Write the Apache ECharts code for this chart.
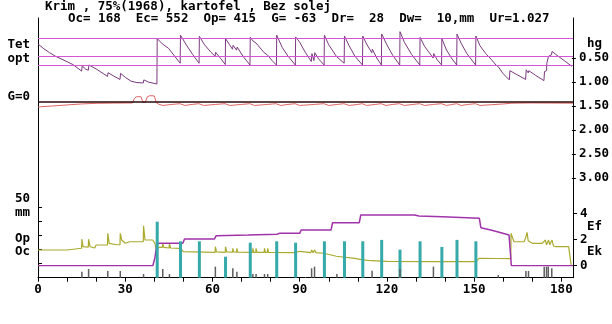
<!DOCTYPE html>
<html>
<head>
<meta charset="utf-8">
<script src="https://cdn.jsdelivr.net/npm/echarts@6/dist/echarts.min.js"></script>
<style>
  html, body { margin: 0; padding: 0; background: #fff; }
  #chart { width: 612px; height: 324px; }
</style>
</head>
<body>
<div id="chart"></div>
<script>
// Season water balance: Krim, 75% year (1968), potato, no salts.

const titleLine1 = 'Krim , 75%(1968), kartofel , Bez solej';
const titleLine2 = 'Oc= 168  Ec= 552  Op= 415  G= -63  Dr=  28  Dw=  10,mm  Ur=1.027';

// Day axis
const dayMax = 184;
const dayTicks = [0, 10, 20, 30, 40, 50, 60, 70, 80, 90, 100, 110, 120, 130, 140, 150, 160, 170, 180];
const dayLabels = [0, 30, 60, 90, 120, 150, 180];

// Groundwater depth scale (m)
const hgTicks = [0.5, 1.0, 1.5, 2.0, 2.5, 3.0];
// mm scale ticks and Ef/Ek scale ticks
const mmTicks = [10, 20, 30, 40, 50];
const efTicks = [0, 2, 4];

// Soil moisture levels: field capacity (Tet) and optimum band
const moistureLevels = [1.0, 0.8, 0.7];

// Relative soil moisture, [day, value]
const moisture = [
  [0, 0.94], [2, 0.885], [4, 0.84], [6, 0.80], [8.6, 0.76], [12, 0.705], [15.0, 0.63], [15.2, 0.69],
  [16.5, 0.65], [17.3, 0.64], [17.5, 0.70], [20, 0.655], [23.9, 0.57], [24.1, 0.612], [26, 0.575],
  [28.2, 0.535], [28.4, 0.605], [30, 0.56], [32, 0.515], [34, 0.50], [36.2, 0.495], [36.4, 0.53],
  [38, 0.505], [40.9, 0.483],
  [41.0, 1.0], [42.8, 0.94], [43.0, 0.955], [44.9, 0.89], [45.2, 0.91], [47, 0.80], [48.9, 0.72],
  [49.0, 1.04], [51.0, 0.93], [53.2, 0.82], [55.4, 0.72],
  [55.5, 1.027], [57.3, 0.93], [59.5, 0.845], [60.9, 0.80], [61.1, 0.845], [62.8, 0.775], [64.4, 0.705],
  [64.5, 1.0], [65.9, 0.93], [66.9, 0.88], [67.1, 0.925], [68.3, 0.87], [68.5, 0.905], [70.5, 0.80], [72.9, 0.70],
  [73.0, 1.016], [73.9, 0.975], [74.0, 0.985], [75.0, 0.95], [75.1, 0.96], [77.8, 0.84], [78.0, 0.855],
  [78.9, 0.815], [79.1, 0.835], [80.5, 0.75], [82.0, 0.70],
  [82.1, 1.04], [84, 0.90], [86, 0.80], [88.5, 0.70],
  [88.6, 1.02], [90, 0.96], [92, 0.84], [94.0, 0.74], [94.2, 0.83], [94.9, 0.75], [95.2, 0.84], [96.5, 0.77], [98.4, 0.70],
  [98.5, 1.04], [100, 0.93], [102.7, 0.795], [102.9, 0.81], [105.3, 0.72],
  [105.4, 1.03], [107, 0.92], [109, 0.80], [111.6, 0.70],
  [111.7, 1.03], [113, 0.94], [114.8, 0.84], [115.0, 0.88], [116.5, 0.78], [118.1, 0.70],
  [118.2, 1.054], [120, 0.93], [122, 0.81], [124.4, 0.70],
  [124.5, 1.08], [126, 0.96], [128.5, 0.82], [131.3, 0.70],
  [131.4, 1.015], [133, 0.91], [135.9, 0.78], [136.1, 0.83], [137.3, 0.76], [138.8, 0.70],
  [138.9, 1.0], [140.5, 0.87], [142.2, 0.78], [144.0, 0.70],
  [144.1, 1.054], [145.5, 0.95], [147.5, 0.83], [150.5, 0.70],
  [150.6, 1.03], [152, 0.92], [154, 0.83], [156, 0.76], [157.5, 0.70], [158.3, 0.68], [160, 0.60],
  [162.1, 0.53], [162.3, 0.635], [165, 0.585], [167.7, 0.535], [167.9, 0.645], [168.6, 0.61], [168.8, 0.635],
  [171, 0.585], [174.0, 0.522], [174.2, 0.625], [174.9, 0.635], [175.0, 0.72], [175.5, 0.74], [175.6, 0.80],
  [176.6, 0.815], [176.8, 0.855], [178.5, 0.81], [181, 0.75], [183.6, 0.685]
];

// Groundwater exchange G, [day, value]
const gFlow = [
  [0, -1.05], [5, -0.85], [10, -0.65], [15, -0.45], [20, -0.32], [26, -0.28], [32.5, -0.25],
  [33.2, 0.7], [34, 1.0], [35.4, 1.0], [36.1, -0.1], [36.9, -0.1], [37.6, 1.0], [38.5, 1.2], [40.0, 1.15],
  [40.7, -0.2], [41.5, -0.5], [43, -0.75], [46, -0.55], [48.8, -0.4], [50.5, -0.75], [53, -0.55], [55.3, -0.4],
  [57, -0.75], [61, -0.55], [64.3, -0.4], [66, -0.75], [70, -0.55], [72.8, -0.4], [74.5, -0.75], [79, -0.55],
  [81.8, -0.4], [83.5, -0.75], [86, -0.55], [88.4, -0.4], [90, -0.75], [95, -0.55], [98.3, -0.4], [100, -0.75],
  [103, -0.55], [105.2, -0.4], [107, -0.75], [110, -0.55], [111.5, -0.4], [113, -0.75], [116, -0.55], [118, -0.4],
  [119.7, -0.75], [122, -0.55], [124.3, -0.4], [126, -0.75], [129, -0.55], [131.2, -0.4], [133, -0.75], [136, -0.55],
  [138.7, -0.4], [140.5, -0.75], [142.5, -0.55], [144, -0.4], [145.5, -0.75], [148, -0.55], [150.4, -0.4],
  [152, -0.75], [156, -0.6], [160, -0.45], [163, -0.3], [170, -0.25], [184, -0.3]
];

// Precipitation, mm: [day, mm]
const rain = [
  [15.1, 4.3], [17.4, 6.2], [24.0, 4.8], [28.3, 4.8], [36.3, 2.6], [42.9, 6.2], [45.2, 2.6], [61.0, 7.9],
  [67.0, 6.7], [68.4, 4.3], [73.9, 2.6], [75.0, 2.6], [77.9, 2.6], [79.0, 2.6], [94.1, 6.7], [95.1, 7.9],
  [102.8, 2.6], [114.9, 5.0], [124.5, 6.2], [136.0, 7.9], [158.3, 1.9], [167.8, 4.8], [168.7, 4.8],
  [174.1, 7.9], [174.9, 7.9], [175.5, 7.9], [176.7, 6.7]
];

// Irrigation, mm: [day, mm]
const irrigation = [
  [41.0, 40], [49.0, 26], [55.5, 26], [64.5, 15], [73.0, 25], [82.1, 26], [88.6, 25], [98.5, 26],
  [105.4, 26], [111.7, 26], [118.2, 27], [124.5, 20], [131.4, 26], [138.9, 22], [144.1, 27], [150.6, 26]
];

// Actual evapotranspiration Ef, mm/day
const ef = [
  [0, 0], [39.5, 0], [40.2, 0.6], [40.8, 1.5], [41.3, 1.71], [49.8, 1.71], [50.4, 2.04], [60.7, 2.04],
  [61.3, 2.29], [72.2, 2.34], [72.7, 2.40], [82.2, 2.40], [83.0, 2.47], [90.0, 2.47], [90.5, 2.73],
  [100.8, 2.73], [101.3, 3.28], [110.5, 3.28], [111.0, 3.87], [129.5, 3.87], [131, 3.79], [139, 3.74],
  [151.8, 3.62], [152.3, 2.90], [155.7, 2.73], [158.6, 2.55], [162.0, 2.34], [162.8, 0], [184, 0]
];

// Evaporation Ek, mm/day
const ek = [
  [0, 1.2], [10, 1.2], [10.2, 1.33], [15.0, 1.33], [15.1, 2.04], [15.5, 1.45], [17.3, 1.42], [17.4, 2.02],
  [17.9, 1.45], [19.5, 1.35], [20, 1.58], [23.9, 1.58], [24.0, 2.47], [24.5, 1.71], [27, 1.6], [28.2, 1.6],
  [28.3, 2.47], [28.8, 1.96], [30, 1.71], [31.5, 1.83], [36.2, 1.83], [36.3, 3.05], [36.8, 1.96], [39.4, 1.96],
  [40.2, 1.71], [40.8, 1.2], [41.5, 1.4], [42.8, 1.4], [42.9, 1.71], [43.3, 1.4], [45.1, 1.35], [45.2, 1.71],
  [45.6, 1.35], [49, 1.33], [50, 1.07], [60.9, 1.02], [61.0, 1.45], [61.4, 1.05], [64.4, 1.02], [64.5, 1.45],
  [64.9, 1.05], [66.9, 1.03], [67.0, 1.33], [67.3, 1.05], [68.3, 1.03], [68.4, 1.33], [68.7, 1.03],
  [73.8, 1.02], [73.9, 1.33], [74.2, 1.02], [74.9, 1.02], [75.0, 1.33], [75.3, 1.02], [77.8, 1.02],
  [77.9, 1.33], [78.2, 1.02], [78.9, 1.02], [79.0, 1.33], [79.3, 1.02], [88.4, 1.0], [88.6, 1.15], [90, 1.1],
  [93.8, 1.0], [94.1, 1.2], [94.6, 1.0], [95.1, 1.2], [95.6, 1.0], [98.3, 0.95], [98.5, 0.82], [102.6, 0.72],
  [102.8, 0.8], [103.2, 0.69], [108.9, 0.56], [111.7, 0.45], [112, 0.38], [114.8, 0.38], [115, 0.45],
  [115.3, 0.36], [120, 0.33], [135.9, 0.31], [136, 0.38], [136.3, 0.31], [150.6, 0.31], [151.7, 0.56],
  [158.2, 0.55], [158.3, 0.62], [158.6, 0.54], [162.6, 0.54], [162.7, 2.47], [163.7, 1.83], [167.2, 1.83],
  [167.8, 2.2], [168.2, 2.55], [168.6, 1.9], [170, 1.71], [173.4, 1.71], [174.5, 1.96], [174.9, 1.6],
  [175.6, 1.96], [176.0, 1.6], [176.8, 1.96], [177.3, 1.5], [178, 1.45], [182.5, 1.45], [183.4, 0.0]
];

const FONT = 'bold 12.5px "DejaVu Sans Mono", monospace';
const INK = '#000';

const box = (top, height) => ({ left: 38, right: 39, top: top, height: height });

const grids = [
  box(18, 259.7),      // frame and day axis
  box(34, 144),        // groundwater depth scale
  box(29.93, 61.37),   // soil moisture
  box(91.7, 20),       // groundwater exchange
  box(207.7, 70),      // precipitation
  box(207.7, 70),      // irrigation
  box(213.3, 52.4)     // Ef / Ek
];

const xAxes = grids.map((g, i) => {
  const ax = {
    type: 'value', gridIndex: i, min: 0, max: dayMax, show: i === 0,
    splitLine: { show: false },
    axisLine: { onZero: false, lineStyle: { color: INK, width: 1 } },
    axisTick: { show: false },
    axisLabel: { show: false }
  };
  if (i === 0) {
    ax.axisTick = { show: true, customValues: dayTicks, length: 4, lineStyle: { color: INK } };
    ax.axisLabel = {
      show: true, customValues: dayLabels, margin: 6,
      color: INK, fontFamily: '"DejaVu Sans Mono", monospace', fontWeight: 'bold', fontSize: 12.5
    };
  }
  return ax;
});

const hidden = (gridIndex, min, max) => ({
  type: 'value', gridIndex, min, max, show: false, splitLine: { show: false }
});

const labelStyle = {
  color: INK, fontFamily: '"DejaVu Sans Mono", monospace', fontWeight: 'bold', fontSize: 12.5
};

const yAxes = [
  { // 0: frame left
    type: 'value', gridIndex: 0, position: 'left', min: 0, max: 1,
    axisLine: { show: true, onZero: false, lineStyle: { color: INK } },
    axisTick: { show: false }, axisLabel: { show: false }, splitLine: { show: false }
  },
  { // 1: frame right
    type: 'value', gridIndex: 0, position: 'right', min: 0, max: 1,
    axisLine: { show: true, onZero: false, lineStyle: { color: INK } },
    axisTick: { show: false }, axisLabel: { show: false }, splitLine: { show: false }
  },
  { // 2: groundwater depth hg
    type: 'value', gridIndex: 1, position: 'right', min: 0, max: 3, inverse: true,
    axisLine: { show: false, onZero: false },
    axisTick: { show: true, customValues: hgTicks, length: 4, lineStyle: { color: INK } },
    axisLabel: Object.assign({ show: true, customValues: hgTicks, margin: 7,
      formatter: v => Number(v).toFixed(2) }, labelStyle),
    splitLine: { show: false }
  },
  hidden(2, 0.4, 1.1),   // 3: soil moisture
  hidden(3, -2, 2),      // 4: G
  { // 5: mm scale
    type: 'value', gridIndex: 4, position: 'left', min: 0, max: 50,
    axisLine: { show: false, onZero: false },
    axisTick: { show: true, inside: true, customValues: mmTicks, length: 4, lineStyle: { color: INK } },
    axisLabel: { show: false }, splitLine: { show: false }
  },
  hidden(5, 0, 50),      // 6: irrigation
  { // 7: Ef / Ek
    type: 'value', gridIndex: 6, position: 'right', min: 0, max: 4, interval: 2,
    axisLine: { show: false, onZero: false },
    axisTick: { show: true, customValues: efTicks, length: 4, lineStyle: { color: INK } },
    axisLabel: Object.assign({ show: true, customValues: efTicks, margin: 7 }, labelStyle),
    splitLine: { show: false }
  }
];

const text = (str, x, y, align) => ({
  type: 'text', x: x, y: y, silent: true,
  style: {
    text: str, font: FONT, fill: INK,
    align: align, textAlign: align, verticalAlign: 'middle', textVerticalAlign: 'middle'
  }
});

const graphics = [
  text(titleLine1, 45, 6.5, 'left'),
  text(titleLine2, 68, 18.3, 'left'),
  text('Tet', 30, 45, 'right'),
  text('opt', 30, 59, 'right'),
  text('G=0', 30, 96.5, 'right'),
  text('50', 30, 199, 'right'),
  text('mm', 30, 212.5, 'right'),
  text('Op', 30, 238.5, 'right'),
  text('Oc', 30, 251.7, 'right'),
  text('hg', 587, 44, 'left'),
  text('Ef', 587, 226.5, 'left'),
  text('Ek', 587, 252, 'left')
];

const option = {
  animation: false,
  backgroundColor: '#fff',
  grid: grids,
  xAxis: xAxes,
  yAxis: yAxes,
  graphic: graphics,
  series: [
    {
      name: 'W', type: 'line', xAxisIndex: 2, yAxisIndex: 3, data: moisture,
      showSymbol: false, symbol: 'none', z: 3,
      lineStyle: { color: '#7b3a80', width: 1 },
      markLine: {
        silent: true, symbol: ['none', 'none'], label: { show: false },
        lineStyle: { color: '#d655d6', width: 1.2, type: 'solid' },
        data: moistureLevels.map(v => ({ yAxis: v }))
      }
    },
    {
      name: 'G', type: 'line', xAxisIndex: 3, yAxisIndex: 4, data: gFlow,
      showSymbol: false, symbol: 'none', z: 2,
      lineStyle: { color: '#e06464', width: 1 },
      markLine: {
        silent: true, symbol: ['none', 'none'], label: { show: false },
        lineStyle: { color: '#2a0808', width: 1.5, type: 'solid' },
        data: [{ yAxis: 0 }]
      }
    },
    {
      name: 'Op', type: 'bar', xAxisIndex: 5, yAxisIndex: 6, data: irrigation,
      barWidth: 3, z: 4, itemStyle: { color: '#36a9aa' }
    },
    {
      name: 'Oc', type: 'bar', xAxisIndex: 4, yAxisIndex: 5, data: rain,
      barWidth: 1.5, z: 5, itemStyle: { color: '#5e5e5e' }
    },
    {
      name: 'Ek', type: 'line', xAxisIndex: 6, yAxisIndex: 7, data: ek,
      showSymbol: false, symbol: 'none', z: 2,
      lineStyle: { color: '#aaaa2e', width: 1.2 }
    },
    {
      name: 'Ef', type: 'line', xAxisIndex: 6, yAxisIndex: 7, data: ef,
      showSymbol: false, symbol: 'none', z: 3,
      lineStyle: { color: '#a033aa', width: 1.5 }
    }
  ]
};

const chart = echarts.init(document.getElementById('chart'), null, { renderer: 'canvas' });
chart.setOption(option);
</script>
</body>
</html>
